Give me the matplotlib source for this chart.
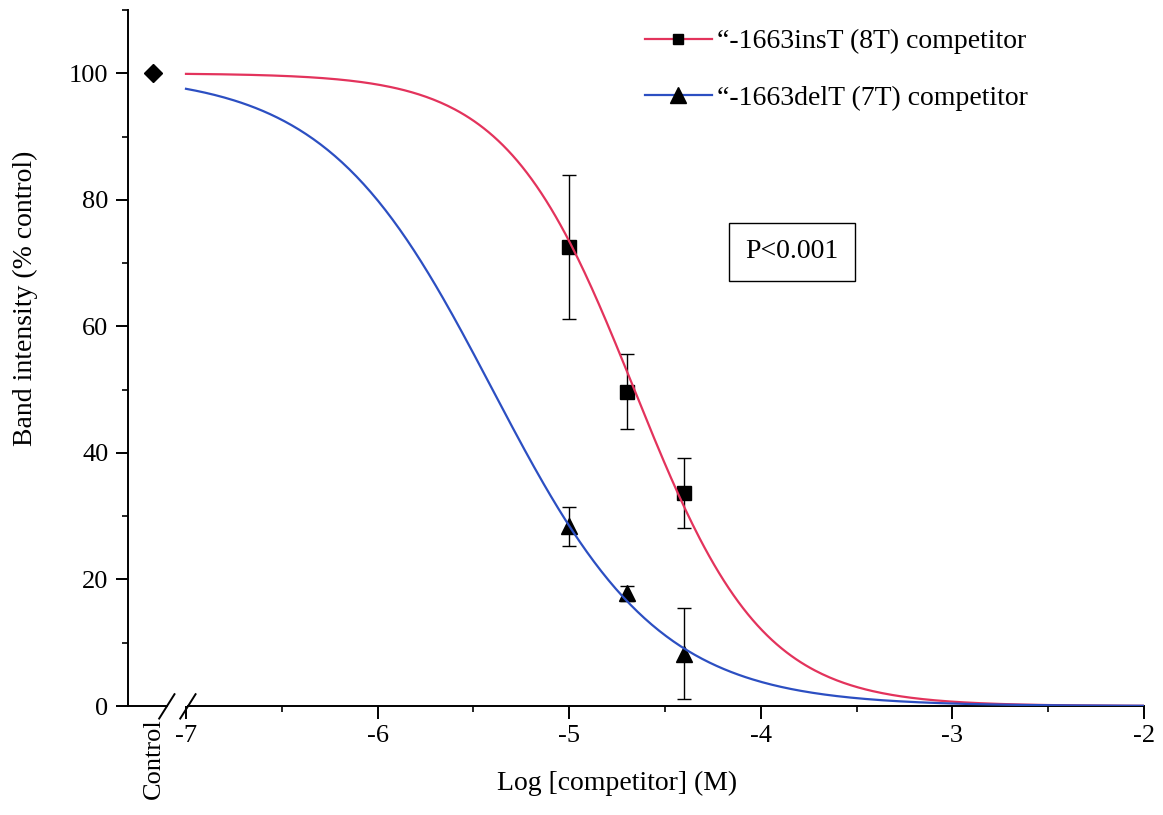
import numpy as np
import matplotlib
matplotlib.use("Agg")
import matplotlib.pyplot as plt
from matplotlib.lines import Line2D
from matplotlib.ticker import MultipleLocator
import matplotlib.transforms as mtransforms

plt.rcParams['font.family'] = ['Liberation Serif', 'DejaVu Serif']
plt.rcParams['axes.unicode_minus'] = False

# competitor concentrations (log M) and band intensities (% of control, mean +/- error)
log_conc = [-5.0, -4.7, -4.4]
ins_mean = [72.5, 49.7, 33.7]
ins_err = [11.4, 5.9, 5.5]
del_mean = [28.4, 17.8, 8.3]
del_err = [3.1, 1.2, 7.2]

control_x = -7.17
control_y = 100

# fitted dose-response parameters (top 100, bottom 0)
ins_logic50, ins_hill = -4.66, 1.3
del_logic50, del_hill = -5.40, 1.0

ins_label = '\u201c-1663insT (8T) competitor'
del_label = '\u201c-1663delT (7T) competitor'

red = '#e3335c'
blue = '#2c4fc2'


def hill_curve(x, logic50, hill):
    return 100.0 / (1.0 + 10 ** ((x - logic50) * hill))


fig = plt.figure(figsize=(11.63, 8.15), dpi=100)
ax = fig.add_axes([0.110, 0.1337, 0.8737, 0.854])

xs = np.linspace(-7, -2, 400)
ax.plot(xs, hill_curve(xs, ins_logic50, ins_hill), color=red, lw=1.6, zorder=4)
ax.plot(xs, hill_curve(xs, del_logic50, del_hill), color=blue, lw=1.6, zorder=4)

ax.errorbar(log_conc, ins_mean, yerr=ins_err, fmt='s', color='black', ms=10,
            ecolor='black', elinewidth=1.0, capsize=5, capthick=1.0, zorder=3)
ax.errorbar(log_conc, del_mean, yerr=del_err, fmt='^', color='black', ms=11,
            ecolor='black', elinewidth=1.0, capsize=5, capthick=1.0, zorder=3)
ax.plot([control_x], [control_y], 'D', color='black', ms=9, zorder=3)

ax.set_xlim(-7.303, -2)
ax.set_ylim(0, 110)

ax.spines['top'].set_visible(False)
ax.spines['right'].set_visible(False)
ax.spines['bottom'].set_visible(False)
ax.spines['left'].set_linewidth(1.4)

# broken x axis between control and -7
trans = mtransforms.blended_transform_factory(ax.transData, ax.transAxes)
ax.plot([-7.303, -7.10], [0, 0], color='black', lw=1.4, transform=trans, clip_on=False)
ax.plot([-6.99, -2.0], [0, 0], color='black', lw=1.4, transform=trans, clip_on=False)
ax.plot([-7.14, -7.06], [-0.018, 0.017], color='black', lw=1.4, transform=trans, clip_on=False)
ax.plot([-7.03, -6.95], [-0.018, 0.017], color='black', lw=1.4, transform=trans, clip_on=False)

ax.set_xticks([-7, -6, -5, -4, -3, -2])
ax.set_xticks([-6.5, -5.5, -4.5, -3.5, -2.5], minor=True)
ax.yaxis.set_major_locator(MultipleLocator(20))
ax.set_yticks([10, 30, 50, 70, 90, 110], minor=True)
ax.tick_params(which='major', direction='out', length=9, width=1.4, labelsize=19, pad=5)
ax.tick_params(which='minor', direction='out', length=4, width=1.2)

ax.text(control_x, -0.017, 'Control', rotation=90, ha='center', va='top',
        fontsize=19, transform=trans)

ax.set_xlabel('Log [competitor] (M)', fontsize=20)
ax.xaxis.set_label_coords(0.481, -0.111)
ax.xaxis.label.set_va('center')
ax.set_ylabel('Band intensity (% control)', fontsize=20)
ax.yaxis.set_label_coords(-0.101, 0.586)
ax.yaxis.label.set_va('center')

ax.text(-3.837, 71.8, 'P<0.001', fontsize=20, ha='center', va='center',
        bbox=dict(boxstyle='square,pad=0.6', facecolor='white', edgecolor='black', lw=1.0))

handles = [
    Line2D([], [], color=red, lw=1.6, marker='s', ms=7, mfc='black', mec='black'),
    Line2D([], [], color=blue, lw=1.6, marker='^', ms=11, mfc='black', mec='black'),
]
ax.legend(handles, [ins_label, del_label], loc='upper left',
          bbox_to_anchor=(645 / 1163, 1 - 29 / 815), bbox_transform=fig.transFigure,
          frameon=False, fontsize=20, handlelength=2.4, handletextpad=0.2,
          labelspacing=1.12, borderaxespad=0, borderpad=0)

fig.savefig('out.png', dpi=100)
